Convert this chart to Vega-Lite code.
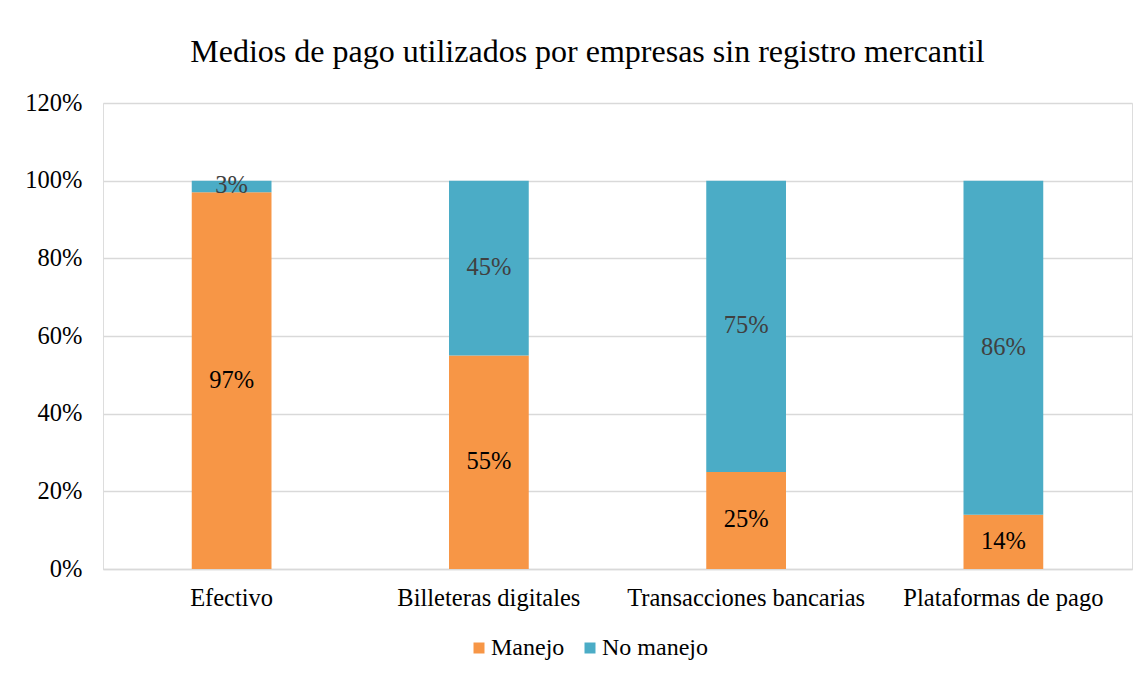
{
  "$schema": "https://vega.github.io/schema/vega-lite/v6.json",
  "width": 1029,
  "height": 466,
  "autosize": "none",
  "padding": {"left": 103, "top": 103, "right": 16, "bottom": 109},
  "background": "white",
  "title": {
    "text": "Medios de pago utilizados por empresas sin registro mercantil",
    "font": "Liberation Serif",
    "fontSize": 32,
    "fontWeight": "normal",
    "color": "#000000",
    "offset": 21,
    "dx": -30
  },
  "data": {
    "values": [
      {"medio": "Efectivo", "serie": "Manejo", "orden": 1, "valor": 0.97},
      {"medio": "Efectivo", "serie": "No manejo", "orden": 2, "valor": 0.03},
      {"medio": "Billeteras digitales", "serie": "Manejo", "orden": 1, "valor": 0.55},
      {"medio": "Billeteras digitales", "serie": "No manejo", "orden": 2, "valor": 0.45},
      {"medio": "Transacciones bancarias", "serie": "Manejo", "orden": 1, "valor": 0.25},
      {"medio": "Transacciones bancarias", "serie": "No manejo", "orden": 2, "valor": 0.75},
      {"medio": "Plataformas de pago", "serie": "Manejo", "orden": 1, "valor": 0.14},
      {"medio": "Plataformas de pago", "serie": "No manejo", "orden": 2, "valor": 0.86}
    ]
  },
  "encoding": {
    "x": {
      "field": "medio",
      "type": "nominal",
      "sort": ["Efectivo", "Billeteras digitales", "Transacciones bancarias", "Plataformas de pago"],
      "scale": {"paddingInner": 0.69, "paddingOuter": 0.345},
      "axis": {
        "title": null,
        "labelAngle": 0,
        "labelFont": "Liberation Serif",
        "labelFontSize": 24.5,
        "labelColor": "#000000",
        "labelPadding": 17,
        "labelLimit": 0,
        "ticks": false,
        "domain": true,
        "domainColor": "#D9D9D9",
        "domainWidth": 1.5
      }
    },
    "order": {"field": "orden", "type": "quantitative"}
  },
  "layer": [
    {
      "mark": {"type": "bar"},
      "encoding": {
        "y": {
          "field": "valor",
          "type": "quantitative",
          "stack": "zero",
          "scale": {"domain": [0, 1.2], "nice": false},
          "axis": {
            "title": null,
            "values": [0, 0.2, 0.4, 0.6, 0.8, 1.0, 1.2],
            "format": ".0%",
            "labelFont": "Liberation Serif",
            "labelFontSize": 24.5,
            "labelColor": "#000000",
            "labelPadding": 21,
            "ticks": false,
            "domain": false,
            "grid": true,
            "gridColor": "#D9D9D9",
            "gridWidth": 1.5
          }
        },
        "color": {
          "field": "serie",
          "type": "nominal",
          "scale": {"domain": ["Manejo", "No manejo"], "range": ["#F79646", "#4BACC6"]},
          "legend": {
            "title": null,
            "orient": "none",
            "legendX": 364,
            "legendY": 533,
            "direction": "horizontal",
            "symbolType": "square",
            "symbolSize": 121,
            "symbolStrokeWidth": 0,
            "labelFont": "Liberation Serif",
            "labelFontSize": 24,
            "labelColor": "#000000",
            "labelOffset": 0,
            "columnPadding": 13
          }
        }
      }
    },
    {
      "mark": {"type": "text", "font": "Liberation Serif", "fontSize": 24.5, "baseline": "middle"},
      "encoding": {
        "y": {"field": "valor", "type": "quantitative", "stack": "zero", "bandPosition": 0.5},
        "text": {"field": "valor", "type": "quantitative", "format": ".0%"},
        "color": {
          "condition": {"test": "datum.serie === 'No manejo'", "value": "#404040"},
          "value": "#000000"
        }
      }
    }
  ]
}
